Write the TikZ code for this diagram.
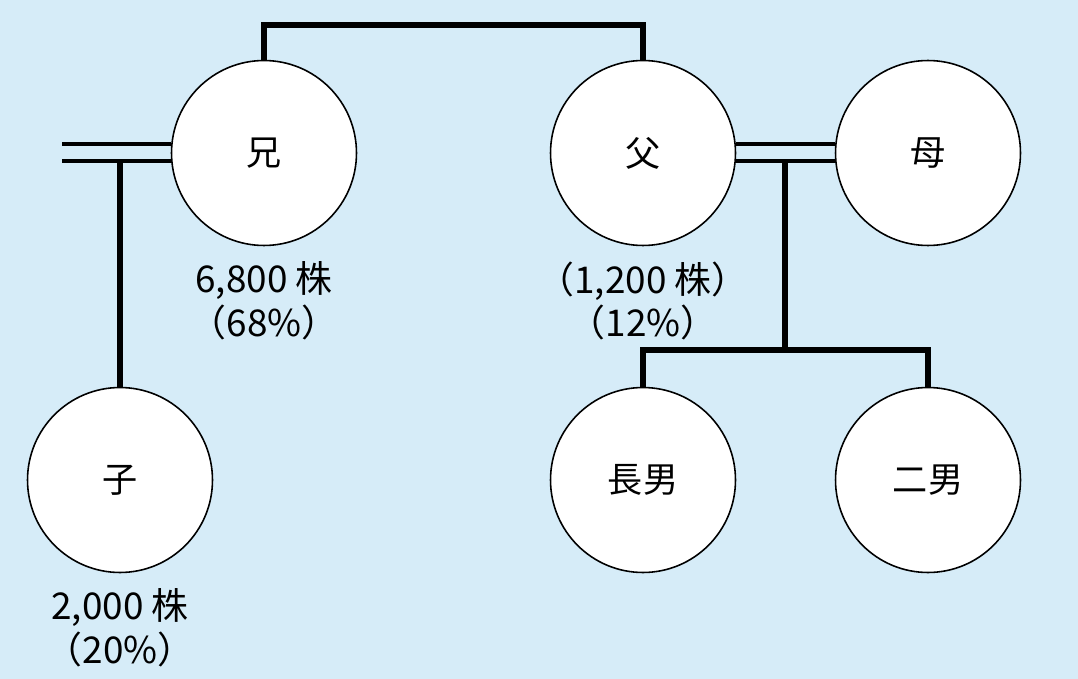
\documentclass[tikz,border=0pt]{standalone}
\usepackage{fontspec}
\setmainfont{Noto Sans CJK JP}
\usetikzlibrary{positioning,calc}

\tikzset{
  person/.style={circle,draw=black,fill=white,line width=0.9pt,minimum size=3.7cm,font=\fontsize{20}{22}\selectfont},
  share/.style={font=\fontsize{21}{25}\selectfont,align=center},
  kin/.style={line width=3.2pt},
  wed/.style={line width=2.2pt}
}

\begin{document}
\begin{tikzpicture}[x=0.02cm,y=-0.02cm]
   \fill[fill={rgb,255:red,214;green,236;blue,248}] (0,0) rectangle (1078,679);
   \useasboundingbox (0,0) rectangle (1078,679);

   \node[person] (ani) at (264,153) {兄};
   \node[person] (chichi) at (643,153) {父};
   \node[person] (haha) at (928,153) {母};
   \node[person] (ko) at (120,480) {子};
   \node[person] (chonan) at (643,480) {長男};
   \node[person] (jinan) at (928,480) {二男};

   \node[share] (aniS) at (264,301) {6,800 株\\（68\%）};
   \node[share] (chichiS) at (643,301) {（1,200 株）\\（12\%）};
   \node[share] (koS) at (120,628) {2,000 株\\（20\%）};

   \coordinate (exL) at (62,153);
   \coordinate (joinA) at (120,160);
   \coordinate (joinF) at (785,160);
   \coordinate (branch) at (785,350);

   % siblings
   \draw[kin] (ani.north) -- ++(0,-35) -| (chichi.north);
   % marriages
   \draw[wed] ($(exL)+(0,-9)$) -- ($(ani.west)+(0,-9)$);
   \draw[wed] ($(exL)+(0,8)$) -- ($(ani.west)+(0,8)$);
   \draw[wed] ($(chichi.east)+(0,-9)$) -- ($(haha.west)+(0,-9)$);
   \draw[wed] ($(chichi.east)+(0,8)$) -- ($(haha.west)+(0,8)$);
   % children
   \draw[kin] (joinA) -- (ko.north);
   \draw[kin] (joinF) -- (branch);
   \draw[kin] (chonan.north) |- (branch) -| (jinan.north);
\end{tikzpicture}
\end{document}
